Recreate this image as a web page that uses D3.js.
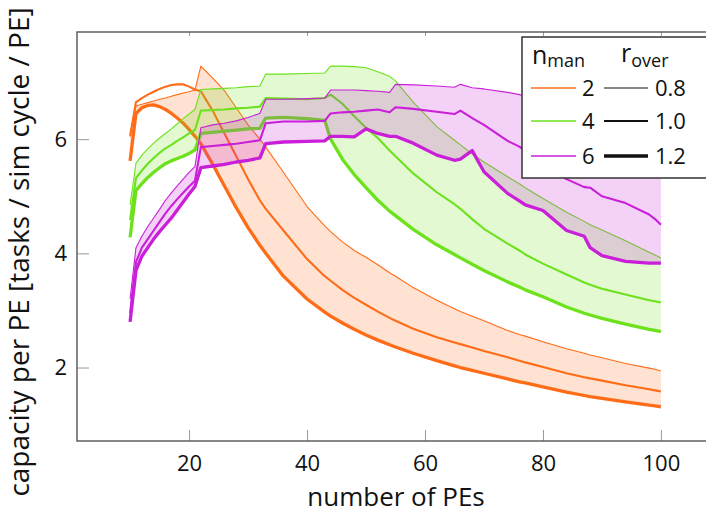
<!DOCTYPE html>
<html><head><meta charset="utf-8">
<script src="https://cdn.jsdelivr.net/npm/d3@7"></script>
<style>
body{margin:0;background:#fff}
svg{display:block}
text{font-family:'Open Sans',sans-serif;fill:#111}
</style>
</head><body>
<svg id="c" width="706" height="515"></svg>
<script>
// ---- data ----
const xValues = [10,11,12,13,14,15,16,17,18,19,20,21,22,24,26,28,30,32,33,36,40,43,44,46,48,50,52,54,55,58,62,65,66,68,70,74,76,77,80,84,87,88,90,94,98,99,100];
const nManLabels = ["2","4","6"];
const rOverLabels = ["0.8","1.0","1.2"];
const xTicks = [20,40,60,80,100];
const yTicks = [2,4,6];

const man2_r08 = [6.10,6.58,6.61,6.64,6.67,6.70,6.72,6.75,6.78,6.81,6.83,6.86,7.28,7.07,6.85,6.55,6.25,6.00,5.86,5.42,4.82,4.48,4.38,4.20,4.05,3.93,3.80,3.66,3.60,3.40,3.18,3.03,2.98,2.90,2.82,2.65,2.58,2.55,2.45,2.33,2.25,2.22,2.17,2.07,1.99,1.97,1.94];
const man2_r10 = [6.05,6.65,6.72,6.78,6.83,6.88,6.92,6.95,6.96,6.96,6.92,6.87,6.84,6.50,6.10,5.70,5.30,4.93,4.78,4.40,3.90,3.60,3.52,3.36,3.22,3.10,2.98,2.87,2.82,2.68,2.53,2.44,2.41,2.35,2.29,2.18,2.12,2.09,2.01,1.90,1.83,1.81,1.77,1.69,1.62,1.60,1.58];
const man2_r12 = [5.62,6.45,6.55,6.59,6.60,6.57,6.52,6.45,6.37,6.28,6.17,6.05,5.92,5.56,5.18,4.80,4.45,4.14,4.00,3.60,3.20,2.97,2.90,2.78,2.67,2.57,2.48,2.40,2.36,2.25,2.12,2.03,2.00,1.95,1.90,1.80,1.75,1.73,1.66,1.57,1.51,1.49,1.46,1.40,1.34,1.33,1.31];

const man4_r08 = [4.85,5.58,5.72,5.83,5.93,6.02,6.10,6.18,6.27,6.36,6.44,6.52,6.87,6.88,6.89,6.90,6.92,6.93,7.14,7.14,7.15,7.16,7.28,7.28,7.27,7.25,7.18,7.10,7.02,6.65,6.22,5.98,5.90,5.74,5.60,5.34,5.22,5.15,4.96,4.72,4.56,4.50,4.41,4.22,4.02,3.97,3.92];
const man4_r10 = [4.58,5.32,5.45,5.57,5.67,5.76,5.84,5.90,5.97,6.03,6.10,6.16,6.50,6.51,6.52,6.54,6.55,6.57,6.72,6.71,6.70,6.72,6.78,6.62,6.40,6.20,6.02,5.80,5.70,5.40,5.07,4.86,4.78,4.60,4.43,4.17,4.05,3.98,3.82,3.63,3.49,3.45,3.38,3.28,3.18,3.16,3.14];
const man4_r12 = [4.28,5.10,5.22,5.33,5.42,5.50,5.57,5.62,5.66,5.70,5.75,5.81,6.10,6.12,6.14,6.16,6.18,6.19,6.37,6.38,6.36,6.33,6.00,5.65,5.38,5.15,4.93,4.74,4.66,4.42,4.15,3.98,3.92,3.81,3.70,3.50,3.41,3.36,3.24,3.06,2.95,2.92,2.86,2.76,2.67,2.65,2.63];

const man6_r08 = [3.20,4.10,4.30,4.47,4.62,4.77,4.93,5.06,5.18,5.30,5.42,5.52,6.20,6.25,6.28,6.32,6.38,6.45,6.70,6.70,6.71,6.72,6.86,6.86,6.86,6.85,6.84,6.82,6.96,6.95,6.93,6.91,6.96,6.90,6.88,6.82,6.78,6.75,6.65,6.50,6.40,6.35,6.25,6.05,5.85,5.80,5.75];
const man6_r10 = [2.95,3.85,4.10,4.25,4.40,4.55,4.70,4.83,4.95,5.06,5.17,5.27,5.86,5.88,5.90,5.92,5.95,5.98,6.28,6.31,6.31,6.32,6.45,6.47,6.48,6.50,6.52,6.47,6.56,6.53,6.48,6.44,6.50,6.37,6.25,5.97,5.87,5.80,5.58,5.30,5.16,5.15,5.00,4.88,4.68,4.60,4.50];
const man6_r12 = [2.80,3.70,3.95,4.10,4.25,4.38,4.50,4.62,4.76,4.90,5.04,5.17,5.50,5.53,5.56,5.60,5.63,5.67,5.92,5.95,5.96,5.97,6.05,6.05,6.04,6.18,6.10,6.05,6.05,5.93,5.72,5.63,5.65,5.80,5.43,5.05,4.92,4.85,4.75,4.40,4.30,4.10,3.96,3.86,3.83,3.83,3.83];

// ---- styling ----
const colors = ["#ff6c17", "#6de21c", "#c91fd9"];
const widths = [1.1, 2.1, 3.3];
const groups = [
  [man2_r08, man2_r10, man2_r12],
  [man4_r08, man4_r10, man4_r12],
  [man6_r08, man6_r10, man6_r12]
];

const svg = d3.select("#c");
const x = d3.scaleLinear().domain([1, 109]).range([77, 714]);
const y = d3.scaleLinear().domain([0.713, 7.877]).range([441, 32]);

// ticks
const gx = svg.append("g").attr("transform", "translate(0,441)")
  .call(d3.axisBottom(x).tickValues(xTicks).tickSize(-11).tickPadding(14).tickFormat(d3.format("d")));
const gxt = svg.append("g").attr("transform", "translate(0,32)")
  .call(d3.axisTop(x).tickValues(xTicks).tickSize(-4).tickFormat(""));
const gy = svg.append("g").attr("transform", "translate(77,0)")
  .call(d3.axisLeft(y).tickValues(yTicks).tickSize(-12).tickPadding(10).tickFormat(d3.format("d")));
[gx, gxt, gy].forEach(g => {
  g.select(".domain").remove();
  g.selectAll(".tick line").attr("stroke", "#999").attr("stroke-width", 1);
  g.selectAll(".tick text").style("font-family", "'Open Sans',sans-serif").style("font-size", "22px").attr("fill", "#111");
});

// bands and lines
const plot = svg.append("g");
groups.forEach((g, i) => {
  const data = xValues.map((xv, k) => ({x: xv, a: g[0][k], b: g[1][k], c: g[2][k]}));
  plot.append("path").datum(data)
    .attr("d", d3.area().x(d => x(d.x)).y0(d => y(d.c)).y1(d => y(d.a)))
    .attr("fill", colors[i]).attr("fill-opacity", 0.2).attr("stroke", "none");
  ["a", "b", "c"].forEach((key, j) => {
    plot.append("path").datum(data)
      .attr("d", d3.line().x(d => x(d.x)).y(d => y(d[key])))
      .attr("fill", "none").attr("stroke", colors[i])
      .attr("stroke-width", widths[j]).attr("stroke-linejoin", "round");
  });
});

// frame
svg.append("rect").attr("x", 77).attr("y", 32).attr("width", 637).attr("height", 409)
  .attr("fill", "none").attr("stroke", "#555").attr("stroke-width", 1.4);

// axis titles
svg.append("text").attr("x", 396).attr("y", 506).attr("text-anchor", "middle")
  .style("font-size", "26px").text("number of PEs");
svg.append("text").attr("transform", "translate(29,252) rotate(-90)").attr("text-anchor", "middle")
  .style("font-size", "28px").text("capacity per PE [tasks / sim cycle / PE]");

// legend
const lg = svg.append("g");
lg.append("rect").attr("x", 522).attr("y", 37).attr("width", 200).attr("height", 141)
  .attr("fill", "#fff").attr("stroke", "#333").attr("stroke-width", 1.5);
const h1 = lg.append("text").attr("x", 532).attr("y", 64).style("font-size", "25px");
h1.append("tspan").text("n");
h1.append("tspan").attr("dy", 3).style("font-size", "18px").text("man");
const h2 = lg.append("text").attr("x", 621).attr("y", 62).style("font-size", "25px");
h2.append("tspan").text("r");
h2.append("tspan").attr("dy", 5).style("font-size", "18px").text("over");
const rowY = [88, 121, 156];
nManLabels.forEach((lab, i) => {
  lg.append("line").attr("x1", 531).attr("x2", 576).attr("y1", rowY[i]).attr("y2", rowY[i])
    .attr("stroke", colors[i]).attr("stroke-width", 1.5);
  lg.append("text").attr("x", 582).attr("y", rowY[i] + 8).style("font-size", "22px").text(lab);
});
rOverLabels.forEach((lab, j) => {
  lg.append("line").attr("x1", 604).attr("x2", 648).attr("y1", rowY[j]).attr("y2", rowY[j])
    .attr("stroke", "#111").attr("stroke-width", widths[j]);
  lg.append("text").attr("x", 655).attr("y", rowY[j] + 8).style("font-size", "22px").text(lab);
});
</script>
</body></html>
